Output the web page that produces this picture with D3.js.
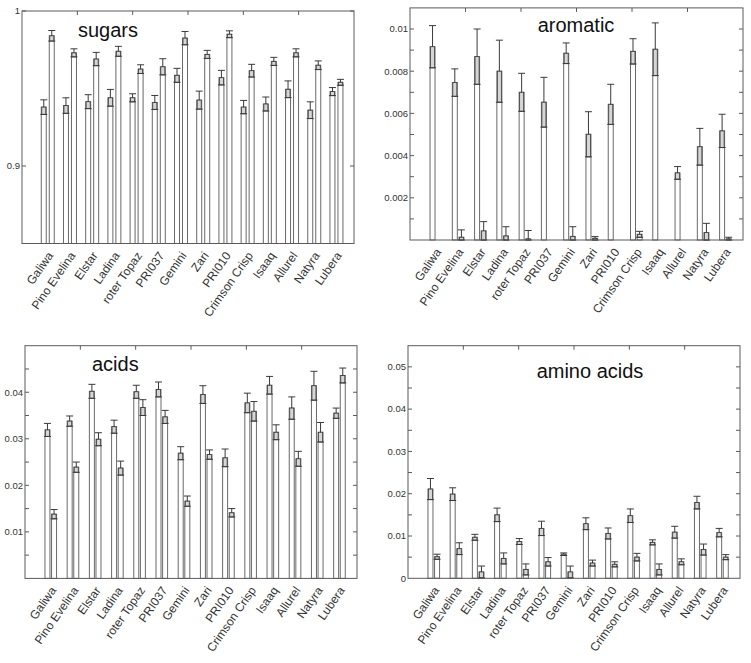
<!DOCTYPE html>
<html>
<head>
<meta charset="utf-8">
<script src="https://cdn.jsdelivr.net/npm/d3@7"></script>
<style>
  html, body { margin: 0; padding: 0; background: #fff; }
  svg { display: block; }
  text { font-family: "Liberation Sans", Arial, sans-serif; }
</style>
</head>
<body>
<script>
// ---------- DATA ----------
const varieties = ["Galiwa","Pino Evelina","Elstar","Ladina","roter Topaz","PRI037","Gemini","Zari","PRI010","Crimson Crisp","Isaaq","Allurel","Natyra","Lubera"];

const sugars1    = [0.938,0.939,0.9415,0.944,0.944,0.941,0.9585,0.9425,0.957,0.938,0.940,0.9495,0.936,0.948];
const sugarsErr1 = [0.0047,0.005,0.0045,0.0054,0.0026,0.0045,0.0045,0.0058,0.0047,0.0043,0.0045,0.0054,0.0054,0.0026];
const sugars2    = [0.984,0.973,0.969,0.974,0.9625,0.964,0.9825,0.972,0.985,0.9615,0.9675,0.973,0.965,0.954];
const sugarsErr2 = [0.0034,0.0026,0.0043,0.0032,0.0028,0.0052,0.0043,0.0026,0.0022,0.0041,0.0026,0.0026,0.0028,0.0019];

const aromatic1    = [0.00916,0.00746,0.00869,0.008,0.007,0.00653,0.00885,0.00501,0.00643,0.00894,0.00904,0.00318,0.00442,0.00517];
const aromaticErr1 = [0.001,0.00065,0.00131,0.00147,0.0009,0.00118,0.00049,0.00107,0.00095,0.0006,0.00125,0.0003,0.00087,0.00079];
const aromatic2    = [0,0.00013,0.00043,0.00019,0.00005,0,0.00017,0.00008,0,0.00027,0,0,0.00035,0.00005];
const aromaticErr2 = [0,0.00035,0.00044,0.00044,0.0004,0,0.00046,0.00008,0,0.00014,0,0,0.00044,0.00008];

const acids1    = [0.0319,0.0338,0.0402,0.0326,0.0401,0.0406,0.0269,0.0395,0.0259,0.0377,0.0415,0.0366,0.0414,0.0355];
const acidsErr1 = [0.0014,0.0011,0.0015,0.0014,0.0014,0.0016,0.0014,0.0019,0.0019,0.0021,0.0019,0.0024,0.0031,0.0011];
const acids2    = [0.0138,0.0239,0.0299,0.0237,0.0367,0.0347,0.0166,0.0266,0.0141,0.0359,0.0314,0.0257,0.0314,0.0436];
const acidsErr2 = [0.001,0.0011,0.0014,0.0015,0.0017,0.0014,0.0011,0.001,0.0009,0.0021,0.0016,0.0016,0.0021,0.0016];

const amino1    = [0.0211,0.0199,0.0097,0.015,0.0087,0.0118,0.0057,0.0129,0.0106,0.0148,0.0085,0.0109,0.0179,0.0108];
const aminoErr1 = [0.0025,0.0015,0.0007,0.0016,0.0007,0.0017,0.0003,0.0014,0.0013,0.0016,0.0006,0.0014,0.0015,0.001];
const amino2    = [0.0051,0.007,0.0015,0.0047,0.0021,0.0039,0.0015,0.0036,0.0033,0.005,0.0021,0.0039,0.0068,0.005];
const aminoErr2 = [0.0006,0.0014,0.0014,0.0013,0.0013,0.001,0.0014,0.0007,0.0006,0.0009,0.0013,0.0007,0.0013,0.0006];

const sugarsTicks   = [0.9, 1];
const sugarsLabels  = ["0.9", "1"];
const aromaticTicks  = [0.002, 0.004, 0.006, 0.008, 0.01];
const aromaticLabels = ["0.002", "0.004", "0.006", "0.008", "0.01"];
const acidsTicks   = [0.01, 0.02, 0.03, 0.04];
const acidsLabels  = ["0.01", "0.02", "0.03", "0.04"];
const aminoTicks   = [0, 0.01, 0.02, 0.03, 0.04, 0.05];
const aminoLabels  = ["0", "0.01", "0.02", "0.03", "0.04", "0.05"];

const titles = ["sugars", "aromatic", "acids", "amino acids"];

// ---------- LAYOUT ----------
const W = 751, H = 663;
const svg = d3.select("body").append("svg").attr("width", W).attr("height", H);

const panels = [
  { title: titles[0], a: sugars1, ea: sugarsErr1, b: sugars2, eb: sugarsErr2,
    x0: 22, x1: 354, y0: 11, y1: 243.5, domain: [0.85, 1.0],
    ticks: sugarsTicks, labels: sugarsLabels, minor: [0.9, 1.0], off: 4,
    tx: 78, ty: 37, anchor: "start" },
  { title: titles[1], a: aromatic1, ea: aromaticErr1, b: aromatic2, eb: aromaticErr2,
    x0: 410, x1: 743, y0: 7.9, y1: 240, domain: [0, 0.011],
    ticks: aromaticTicks, labels: aromaticLabels, minor: d3.range(1, 11).map(d => d * 0.001), off: 3.3,
    tx: 576, ty: 32, anchor: "middle" },
  { title: titles[2], a: acids1, ea: acidsErr1, b: acids2, eb: acidsErr2,
    x0: 25, x1: 357, y0: 345.7, y1: 578.4, domain: [0, 0.05],
    ticks: acidsTicks, labels: acidsLabels, minor: d3.range(1, 10).map(d => d * 0.005), off: 3.3,
    tx: 92, ty: 371, anchor: "start" },
  { title: titles[3], a: amino1, ea: aminoErr1, b: amino2, eb: aminoErr2,
    x0: 408, x1: 740, y0: 345.7, y1: 578.3, domain: [0, 0.055],
    ticks: aminoTicks, labels: aminoLabels, minor: d3.range(1, 11).map(d => d * 0.005), off: 3.3,
    tx: 590, ty: 378, anchor: "middle" }
];

const frameColor = "#5a5a5a";
const barStroke = "#6a6a6a";
const errColor = "#3a3a3a";
const boxFill = "#d6d6d6";
const bw = 5;

panels.forEach(p => {
  const g = svg.append("g");
  const x = d3.scaleLinear().domain([-1.16, 13.79]).range([p.x0, p.x1]);
  const y = d3.scaleLinear().domain(p.domain).range([p.y1, p.y0]);

  const series = [
    { v: p.a, e: p.ea, dx: -p.off },
    { v: p.b, e: p.eb, dx: p.off }
  ];
  series.forEach(s => {
    varieties.forEach((name, i) => {
      const val = s.v[i];
      if (!(val > p.domain[0])) return;
      const cx = x(i) + s.dx;
      const err = s.e[i];
      g.append("rect")
        .attr("x", cx - bw / 2).attr("y", y(val))
        .attr("width", bw).attr("height", y(p.domain[0]) - y(val))
        .attr("fill", "#fff").attr("stroke", barStroke).attr("stroke-width", 1);
      if (err > 0) {
        const lo = Math.max(val - err, p.domain[0]);
        g.append("rect")
          .attr("x", cx - bw / 2 + 0.5).attr("y", y(val))
          .attr("width", bw - 1).attr("height", y(lo) - y(val))
          .attr("fill", boxFill).attr("stroke", errColor).attr("stroke-width", 0.8);
        g.append("line")
          .attr("x1", cx).attr("x2", cx).attr("y1", y(val)).attr("y2", y(val + err))
          .attr("stroke", errColor).attr("stroke-width", 1);
        g.append("line")
          .attr("x1", cx - 3.5).attr("x2", cx + 3.5).attr("y1", y(val + err)).attr("y2", y(val + err))
          .attr("stroke", errColor).attr("stroke-width", 1);
        g.append("line")
          .attr("x1", cx - 3.5).attr("x2", cx + 3.5).attr("y1", y(lo)).attr("y2", y(lo))
          .attr("stroke", errColor).attr("stroke-width", 1);
      }
    });
  });

  // frame
  g.append("rect")
    .attr("x", p.x0).attr("y", p.y0)
    .attr("width", p.x1 - p.x0).attr("height", p.y1 - p.y0)
    .attr("fill", "none").attr("stroke", frameColor).attr("stroke-width", 1);

  // top frame ticks (sixths)
  d3.range(1, 6).forEach(k => {
    const xx = p.x0 + (p.x1 - p.x0) * k / 6;
    g.append("line").attr("x1", xx).attr("x2", xx).attr("y1", p.y0).attr("y2", p.y0 + 4)
      .attr("stroke", frameColor);
  });

  // minor ticks both sides
  p.minor.forEach(t => {
    const yy = y(t);
    g.append("line").attr("x1", p.x0).attr("x2", p.x0 + 4).attr("y1", yy).attr("y2", yy).attr("stroke", frameColor);
    g.append("line").attr("x1", p.x1 - 4).attr("x2", p.x1).attr("y1", yy).attr("y2", yy).attr("stroke", frameColor);
  });

  // y tick labels
  p.ticks.forEach((t, k) => {
    g.append("text")
      .attr("x", p.x0 - 2).attr("y", y(t))
      .attr("dy", "0.35em")
      .attr("text-anchor", "end")
      .attr("font-size", 9.5).attr("fill", "#333")
      .text(p.labels[k]);
  });

  // x labels
  varieties.forEach((name, i) => {
    const cx = x(i);
    g.append("text")
      .attr("transform", `translate(${cx + 6},${p.y1 + 12}) rotate(-55)`)
      .attr("text-anchor", "end")
      .attr("font-size", 12).attr("fill", "#333")
      .text(name);
  });

  // title
  g.append("text")
    .attr("x", p.tx).attr("y", p.ty)
    .attr("text-anchor", p.anchor)
    .attr("font-size", 20).attr("fill", "#111")
    .text(p.title);
});
</script>
</body>
</html>
